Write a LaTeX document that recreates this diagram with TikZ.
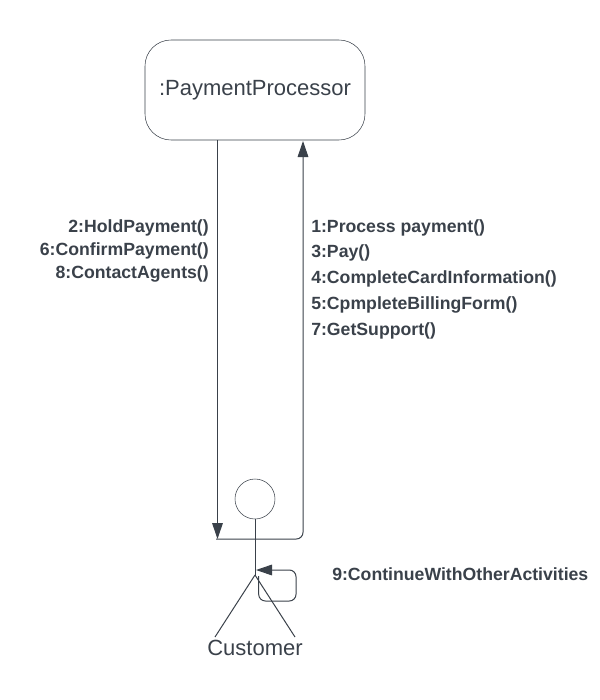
\documentclass[tikz,border=0pt]{standalone}
\usepackage{fontspec}
\setmainfont{Liberation Sans}
\usetikzlibrary{arrows.meta}
\definecolor{inkdark}{RGB}{58,65,74}
\tikzset{
  objbox/.style={draw=inkdark,rounded corners=19.5pt,minimum width=165pt,minimum height=75pt,inner sep=0pt,text=inkdark,font=\fontsize{16.5}{20}\selectfont},
  msgline/.style={draw=inkdark,line width=0.75pt,-{Triangle[length=12pt,width=8pt]}},
  stickline/.style={draw=inkdark,line width=0.75pt},
  msglabel/.style={inner sep=0pt,text=inkdark,font=\fontsize{13.25}{19.3}\bfseries\selectfont},
}
\begin{document}
\begin{tikzpicture}[x=0.75pt,y=0.75pt,yscale=-1,xscale=1]
\useasboundingbox (0,0) rectangle (600,700);

% object
\node [objbox] (proc) at (255,90) {:PaymentProcessor};
% actor
\node [draw=inkdark,circle,minimum size=30pt,inner sep=0pt] (head) at (255,499) {};
\coordinate (hip) at (255,575);
\coordinate (footL) at (215,637);
\coordinate (footR) at (295,637);
\node [inner sep=0pt,text=inkdark,font=\fontsize{16.5}{20}\selectfont] (cust) at (255,648) {Customer};
\draw [stickline] (head.south) -- (hip);
\draw [stickline] (hip) -- (footL);
\draw [stickline] (hip) -- (footR);

% messages
\coordinate (armL) at (216,539);
\coordinate (armR) at (303,539);
\coordinate (downA) at (217.5,140);
\coordinate (downB) at (217.5,539);
\coordinate (upB) at (303,141);
\draw [msgline] (downA) -- (downB);
\draw [msgline,rounded corners=5pt] (armL) -- (armR) -- (upB);
% self message
\coordinate (selfA) at (258.7,576);
\coordinate (selfB) at (296,601);
\coordinate (selfC) at (256,570);
\draw [msgline,rounded corners=5pt] (selfA) |- (selfB) |- (selfC);

% Text Node
\node [msglabel,anchor=east,align=right,font=\fontsize{13.25}{16.9}\bfseries\selectfont] (lblDown) at (209,251) {2:HoldPayment()\\6:ConfirmPayment()\\8:ContactAgents()};
\node [msglabel,anchor=west,align=left] (lblUp) at (311,279) {1:Process payment()\\3:Pay()\\4:CompleteCardInformation()\\5:CpmpleteBillingForm()\\7:GetSupport()};
\node [msglabel,anchor=west] (lblSelf) at (332,574) {9:ContinueWithOtherActivities};
\end{tikzpicture}
\end{document}
